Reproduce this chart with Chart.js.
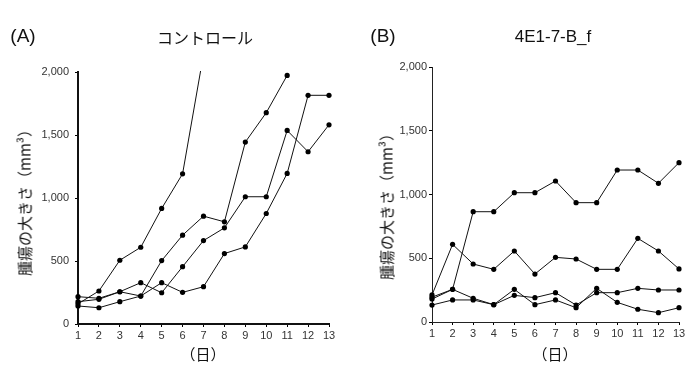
<!DOCTYPE html>
<html>
<head>
<meta charset="utf-8">
<script src="https://cdn.jsdelivr.net/npm/chart.js@4.4.1/dist/chart.umd.min.js"></script>
<style>
  body { margin: 0; background: #fff; }
  #wrap { position: relative; width: 698px; height: 368px; overflow: hidden; font-family: "Liberation Sans", Arial, sans-serif; color: #111; }
  canvas { position: absolute; top: 0; }
  .lbl { position: absolute; white-space: nowrap; transform: translate(-50%, -50%); }
  .panel { font-size: 19px; }
  .ttl { font-family: "Noto Sans CJK JP", "Liberation Sans", sans-serif; font-size: 16px; }
  .ttlB { font-family: "Liberation Sans", sans-serif; font-size: 17px; }
  .ytitle { font-family: "Noto Sans CJK JP", sans-serif; font-size: 15px; transform: translate(-50%, -50%) rotate(-90deg); }
  .xtitle { font-family: "Noto Sans CJK JP", sans-serif; font-size: 15px; }
</style>
</head>
<body>
<div id="wrap">
  <canvas id="chartA" width="349" height="368" style="left:0"></canvas>
  <canvas id="chartB" width="349" height="368" style="left:349px"></canvas>

  <div class="lbl panel" style="left:23px; top:36px">(A)</div>
  <div class="lbl ttl" style="left:205px; top:37px">コントロール</div>
  <div class="lbl ytitle" style="left:24px; top:199px">腫瘍の大きさ（mm³）</div>
  <div class="lbl xtitle" style="left:203px; top:353px">（日）</div>

  <div class="lbl panel" style="left:383px; top:36px">(B)</div>
  <div class="lbl ttlB" style="left:553px; top:37px">4E1-7-B_f</div>
  <div class="lbl ytitle" style="left:386px; top:203px">腫瘍の大きさ（mm³）</div>
  <div class="lbl xtitle" style="left:555px; top:353px">（日）</div>
</div>

<script>
// days on the x axis
const dias = [1, 2, 3, 4, 5, 6, 7, 8, 9, 10, 11, 12, 13];
const ticksY = [0, 500, 1000, 1500, 2000];

// (A) control - tumour volume, mm3 (first mouse goes off the top after day 6)
const controlA = [160, 262, 506, 609, 917, 1192, 2140];
const controlB = [143, 129, 177, 222, 503, 705, 856, 811, 1444, 1677, 1973];
const controlC = [177, 196, 256, 222, 328, 251, 296, 559, 612, 877, 1195, 1815, 1815];
const controlD = [217, 204, 256, 328, 248, 455, 662, 763, 1010, 1010, 1536, 1367, 1581];

// (B) 4E1-7-B_f
const tratadoA = [195, 256, 865, 865, 1014, 1014, 1106, 936, 936, 1192, 1192, 1088, 1250];
const tratadoB = [212, 609, 455, 413, 557, 376, 507, 494, 413, 413, 656, 557, 416];
const tratadoC = [180, 256, 186, 136, 256, 136, 173, 112, 264, 154, 100, 73, 112];
const tratadoD = [133, 173, 173, 136, 209, 191, 230, 133, 230, 230, 264, 251, 251];

function serie(valores) {
  return {
    data: valores.map((v, i) => ({ x: dias[i], y: v })),
    borderColor: "#111",
    borderWidth: 1,
    backgroundColor: "#000",
    pointRadius: 2.6,
    pointBorderWidth: 0,
    tension: 0,
    clip: { left: 6, right: 6, top: 1, bottom: 6 } // only cut the line that leaves through the top
  };
}

function crearGrafico(id, series, cfg) {
  return new Chart(document.getElementById(id), {
    type: "line",
    data: { datasets: series.map(serie) },
    options: {
      responsive: false,
      animation: false,
      events: [],
      layout: { padding: { top: cfg.top, right: cfg.right, left: 0, bottom: 0 } },
      plugins: { legend: { display: false }, tooltip: { enabled: false } },
      scales: {
        x: {
          type: "linear",
          min: 1,
          max: 13,
          afterFit: (s) => { s.height = cfg.xHeight; },
          afterBuildTicks: (s) => { s.ticks = dias.map((d) => ({ value: d })); },
          border: { display: true, color: cfg.axisColor, width: cfg.axisWidth },
          grid: { drawOnChartArea: false, drawTicks: true, tickLength: 3, color: "#000" },
          ticks: { color: "#333", padding: 2, font: { family: "Liberation Sans", size: 11 } }
        },
        y: {
          min: 0,
          max: 2000,
          afterFit: (s) => { s.width = cfg.yWidth; },
          afterBuildTicks: (s) => { s.ticks = ticksY.map((v) => ({ value: v })); },
          border: { display: true, color: cfg.axisColor, width: cfg.axisWidth },
          grid: { drawOnChartArea: false, drawTicks: true, tickLength: 3, color: "#000" },
          ticks: {
            color: "#333",
            padding: cfg.yPad,
            font: { family: "Liberation Sans", size: 11 },
            callback: (v) => v.toLocaleString("en-US")
          }
        }
      }
    }
  });
}

crearGrafico("chartA", [controlA, controlB, controlC, controlD], {
  top: 72, right: 20, xHeight: 44, yWidth: 78, axisColor: "#111", axisWidth: 2, yPad: 6
});
crearGrafico("chartB", [tratadoA, tratadoB, tratadoC, tratadoD], {
  top: 67, right: 19, xHeight: 46, yWidth: 83, axisColor: "#222", axisWidth: 1, yPad: 2
});
</script>
</body>
</html>
